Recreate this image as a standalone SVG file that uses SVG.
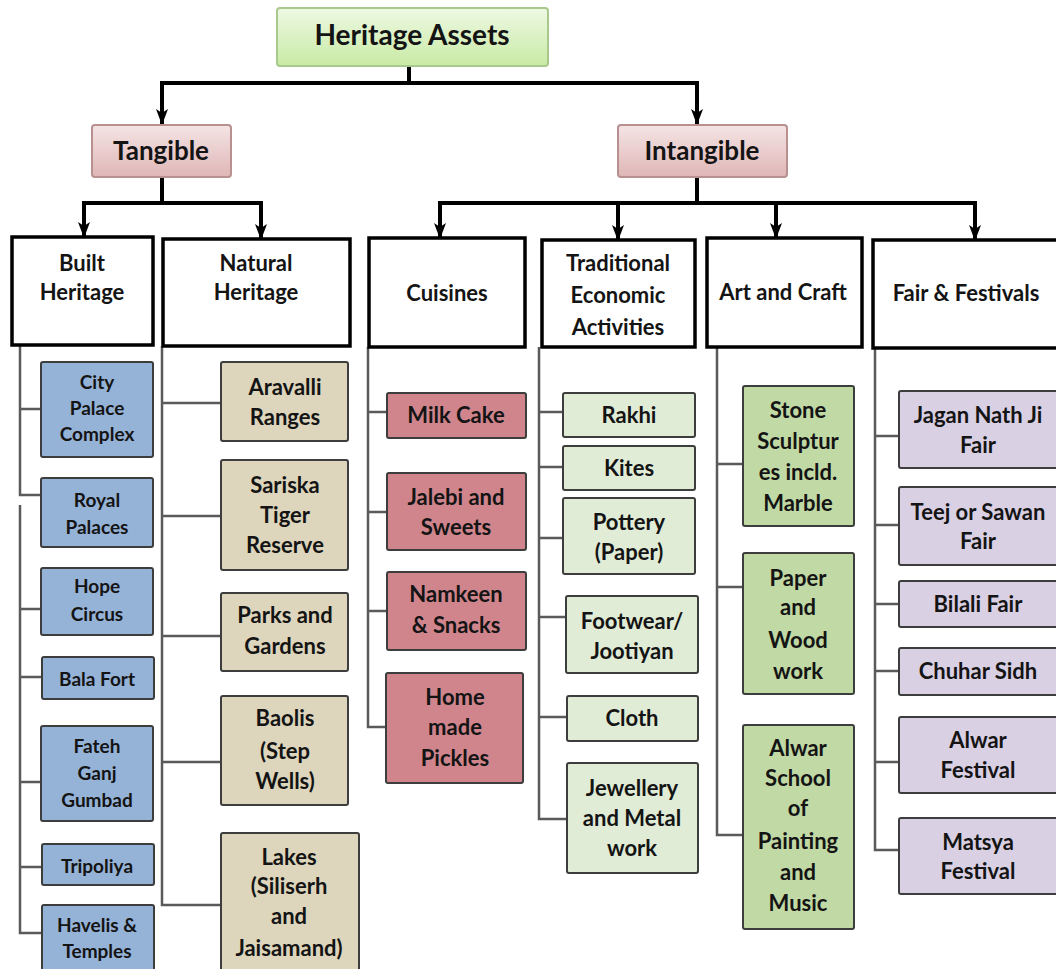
<svg xmlns="http://www.w3.org/2000/svg" width="1056" height="969" viewBox="0 0 1056 969">
<defs>
<linearGradient id="gRoot" x1="0" y1="0" x2="0" y2="1"><stop offset="0" stop-color="#eef8e4"/><stop offset="1" stop-color="#c8eba4"/></linearGradient>
<linearGradient id="gL1" x1="0" y1="0" x2="0" y2="1"><stop offset="0" stop-color="#f5e4e4"/><stop offset="1" stop-color="#dfb6b6"/></linearGradient>
<marker id="arr" viewBox="0 0 16 12" refX="15" refY="6" markerWidth="16" markerHeight="12" markerUnits="userSpaceOnUse" orient="auto"><path d="M0,0 L16,6 L0,12 L4,6 z" fill="#000"/></marker>
</defs>
<style>
text{font-family:Lato,"Open Sans","Liberation Sans",sans-serif;font-weight:bold;fill:#141414;text-anchor:middle}
.root{fill:url(#gRoot);stroke:#a9c98c;stroke-width:2}
.l1{fill:url(#gL1);stroke:#b89090;stroke-width:2}
.hd{fill:#fff;stroke:#000;stroke-width:3.5}
.lf{stroke:#3d3d3d;stroke-width:2}
.blue{fill:#95b3d7}.tan{fill:#ddd6bc}.pink{fill:#d0858d}.lgr{fill:#e1ecd7}.grn{fill:#c1d9a4}.pur{fill:#d9d0e4}
.t28{font-size:28px}.t26{font-size:26px}.t22{font-size:22px}.t19{font-size:19px}
.main{fill:none;stroke:#000;stroke-width:4}
.sub{fill:none;stroke:#5a5a5a;stroke-width:2.5}
</style>
<g id="connectors">
<path class="main" d="M409,66 V83 M160,83 H699"/>
<path class="main" d="M162,83 V124" marker-end="url(#arr)"/>
<path class="main" d="M697,83 V124" marker-end="url(#arr)"/>
<path class="main" d="M162,177 V203 M82,203 H263"/>
<path class="main" d="M84,203 V237" marker-end="url(#arr)"/>
<path class="main" d="M261,203 V239" marker-end="url(#arr)"/>
<path class="main" d="M697,177 V203 M438,203 H977"/>
<path class="main" d="M440,203 V238" marker-end="url(#arr)"/>
<path class="main" d="M618,203 V240" marker-end="url(#arr)"/>
<path class="main" d="M776,203 V238" marker-end="url(#arr)"/>
<path class="main" d="M975,203 V240" marker-end="url(#arr)"/>
<path class="sub" d="M20,345 V495 H41 M20,409 H41"/>
<path class="sub" d="M20,505 V933 H42 M20,609 H41 M20,677 H42 M20,782 H41 M20,867 H42"/>
<path class="sub" d="M162,346 V905 H221 M162,403 H221 M162,516 H221 M162,636 H221 M162,762 H221"/>
<path class="sub" d="M368,347 V727 H386 M368,412 H387 M368,512 H387 M368,611 H387"/>
<path class="sub" d="M539,347 V819 H567 M539,412 H563 M539,467 H563 M539,538 H563 M539,617 H566 M539,717 H567"/>
<path class="sub" d="M717,347 V835 H743 M717,464 H743 M717,587 H743"/>
<path class="sub" d="M875,348 V850 H899 M875,436 H899 M875,525 H899 M875,604 H899 M875,671 H899 M875,762 H899"/>
</g>
<g id="heritage-assets"><rect class="root" x="277" y="8" width="271" height="58" rx="3"/><text class="t28" x="412" y="45">Heritage Assets</text></g>
<g id="tangible"><rect class="l1" x="92" y="125" width="139" height="52" rx="3"/><text class="t26" x="161" y="160">Tangible</text></g>
<g id="intangible"><rect class="l1" x="618" y="125" width="169" height="52" rx="3"/><text class="t26" x="702" y="160">Intangible</text></g>
<g id="built-heritage"><rect class="hd" x="12" y="237" width="141" height="108"/><text class="t22"><tspan x="82" y="271">Built</tspan><tspan x="82" y="300">Heritage</tspan></text></g>
<g id="natural-heritage"><rect class="hd" x="163" y="239" width="187" height="107"/><text class="t22"><tspan x="256" y="271">Natural</tspan><tspan x="256" y="300">Heritage</tspan></text></g>
<g id="cuisines"><rect class="hd" x="369" y="238" width="156" height="109"/><text class="t22" x="447" y="301">Cuisines</text></g>
<g id="traditional"><rect class="hd" x="542" y="240" width="153" height="107"/><text class="t22"><tspan x="618" y="271">Traditional</tspan><tspan x="618" y="303">Economic</tspan><tspan x="618" y="335">Activities</tspan></text></g>
<g id="art-craft"><rect class="hd" x="707" y="238" width="155" height="109"/><text class="t22" x="783" y="300">Art and Craft</text></g>
<g id="fair-festivals"><rect class="hd" x="873" y="240" width="190" height="108"/><text class="t22" x="966" y="301">Fair &amp; Festivals</text></g>
<g id="city-palace"><rect class="lf blue" x="41" y="362" width="112" height="95" rx="2"/><text class="t19"><tspan x="97" y="389">City</tspan><tspan x="97" y="415">Palace</tspan><tspan x="97" y="441">Complex</tspan></text></g>
<g id="royal-palaces"><rect class="lf blue" x="41" y="478" width="112" height="69" rx="2"/><text class="t19"><tspan x="97" y="507">Royal</tspan><tspan x="97" y="534">Palaces</tspan></text></g>
<g id="hope-circus"><rect class="lf blue" x="41" y="568" width="112" height="67" rx="2"/><text class="t19"><tspan x="97" y="593">Hope</tspan><tspan x="97" y="621">Circus</tspan></text></g>
<g id="bala-fort"><rect class="lf blue" x="42" y="657" width="112" height="42" rx="2"/><text class="t19" x="97" y="686">Bala Fort</text></g>
<g id="fateh-ganj"><rect class="lf blue" x="41" y="726" width="112" height="95" rx="2"/><text class="t19"><tspan x="97" y="753">Fateh</tspan><tspan x="97" y="780">Ganj</tspan><tspan x="97" y="807">Gumbad</tspan></text></g>
<g id="tripoliya"><rect class="lf blue" x="42" y="844" width="112" height="41" rx="2"/><text class="t19" x="97" y="873">Tripoliya</text></g>
<g id="havelis"><rect class="lf blue" x="42" y="905" width="112" height="72" rx="2"/><text class="t19"><tspan x="97" y="932">Havelis &amp;</tspan><tspan x="97" y="958">Temples</tspan></text></g>
<g id="aravalli"><rect class="lf tan" x="221" y="362" width="127" height="79" rx="2"/><text class="t22"><tspan x="285" y="395">Aravalli</tspan><tspan x="285" y="425">Ranges</tspan></text></g>
<g id="sariska"><rect class="lf tan" x="221" y="460" width="127" height="110" rx="2"/><text class="t22"><tspan x="285" y="493">Sariska</tspan><tspan x="285" y="523">Tiger</tspan><tspan x="285" y="553">Reserve</tspan></text></g>
<g id="parks"><rect class="lf tan" x="221" y="593" width="127" height="78" rx="2"/><text class="t22"><tspan x="285" y="623">Parks and</tspan><tspan x="285" y="654">Gardens</tspan></text></g>
<g id="baolis"><rect class="lf tan" x="221" y="696" width="127" height="109" rx="2"/><text class="t22"><tspan x="285" y="726">Baolis</tspan><tspan x="285" y="759">(Step</tspan><tspan x="285" y="789">Wells)</tspan></text></g>
<g id="lakes"><rect class="lf tan" x="221" y="833" width="138" height="142" rx="2"/><text class="t22"><tspan x="289" y="865">Lakes</tspan><tspan x="289" y="894">(Siliserh</tspan><tspan x="289" y="924">and</tspan><tspan x="289" y="956">Jaisamand)</tspan></text></g>
<g id="milk-cake"><rect class="lf pink" x="387" y="393" width="139" height="45" rx="2"/><text class="t22" x="456" y="423">Milk Cake</text></g>
<g id="jalebi"><rect class="lf pink" x="387" y="473" width="139" height="77" rx="2"/><text class="t22"><tspan x="456" y="505">Jalebi and</tspan><tspan x="456" y="535">Sweets</tspan></text></g>
<g id="namkeen"><rect class="lf pink" x="387" y="572" width="139" height="78" rx="2"/><text class="t22"><tspan x="456" y="602">Namkeen</tspan><tspan x="456" y="633">&amp; Snacks</tspan></text></g>
<g id="pickles"><rect class="lf pink" x="386" y="673" width="137" height="110" rx="2"/><text class="t22"><tspan x="455" y="705">Home</tspan><tspan x="455" y="735">made</tspan><tspan x="455" y="766">Pickles</tspan></text></g>
<g id="rakhi"><rect class="lf lgr" x="563" y="393" width="132" height="44" rx="2"/><text class="t22" x="629" y="423">Rakhi</text></g>
<g id="kites"><rect class="lf lgr" x="563" y="446" width="132" height="44" rx="2"/><text class="t22" x="629" y="476">Kites</text></g>
<g id="pottery"><rect class="lf lgr" x="563" y="498" width="132" height="76" rx="2"/><text class="t22"><tspan x="629" y="530">Pottery</tspan><tspan x="629" y="560">(Paper)</tspan></text></g>
<g id="footwear"><rect class="lf lgr" x="566" y="596" width="132" height="77" rx="2"/><text class="t22"><tspan x="632" y="629">Footwear/</tspan><tspan x="632" y="659">Jootiyan</tspan></text></g>
<g id="cloth"><rect class="lf lgr" x="567" y="696" width="131" height="45" rx="2"/><text class="t22" x="632" y="726">Cloth</text></g>
<g id="jewellery"><rect class="lf lgr" x="567" y="763" width="131" height="110" rx="2"/><text class="t22"><tspan x="632" y="796">Jewellery</tspan><tspan x="632" y="826">and Metal</tspan><tspan x="632" y="856">work</tspan></text></g>
<g id="stone"><rect class="lf grn" x="743" y="386" width="111" height="140" rx="2"/><text class="t22"><tspan x="798" y="418">Stone</tspan><tspan x="798" y="449">Sculptur</tspan><tspan x="798" y="480">es incld.</tspan><tspan x="798" y="511">Marble</tspan></text></g>
<g id="paper-wood"><rect class="lf grn" x="743" y="553" width="111" height="141" rx="2"/><text class="t22"><tspan x="798" y="586">Paper</tspan><tspan x="798" y="615">and</tspan><tspan x="798" y="648">Wood</tspan><tspan x="798" y="679">work</tspan></text></g>
<g id="alwar-school"><rect class="lf grn" x="743" y="725" width="111" height="204" rx="2"/><text class="t22"><tspan x="798" y="756">Alwar</tspan><tspan x="798" y="786">School</tspan><tspan x="798" y="816">of</tspan><tspan x="798" y="849">Painting</tspan><tspan x="798" y="880">and</tspan><tspan x="798" y="911">Music</tspan></text></g>
<g id="jagan-nath"><rect class="lf pur" x="899" y="391" width="170" height="77" rx="2"/><text class="t22"><tspan x="978" y="423">Jagan Nath Ji</tspan><tspan x="978" y="453">Fair</tspan></text></g>
<g id="teej"><rect class="lf pur" x="899" y="487" width="170" height="78" rx="2"/><text class="t22"><tspan x="978" y="520">Teej or Sawan</tspan><tspan x="978" y="549">Fair</tspan></text></g>
<g id="bilali"><rect class="lf pur" x="899" y="581" width="170" height="46" rx="2"/><text class="t22" x="978" y="612">Bilali Fair</text></g>
<g id="chuhar"><rect class="lf pur" x="899" y="648" width="170" height="47" rx="2"/><text class="t22" x="978" y="679">Chuhar Sidh</text></g>
<g id="alwar-festival"><rect class="lf pur" x="899" y="717" width="170" height="76" rx="2"/><text class="t22"><tspan x="978" y="748">Alwar</tspan><tspan x="978" y="778">Festival</tspan></text></g>
<g id="matsya"><rect class="lf pur" x="899" y="818" width="170" height="76" rx="2"/><text class="t22"><tspan x="978" y="850">Matsya</tspan><tspan x="978" y="879">Festival</tspan></text></g>
</svg>
